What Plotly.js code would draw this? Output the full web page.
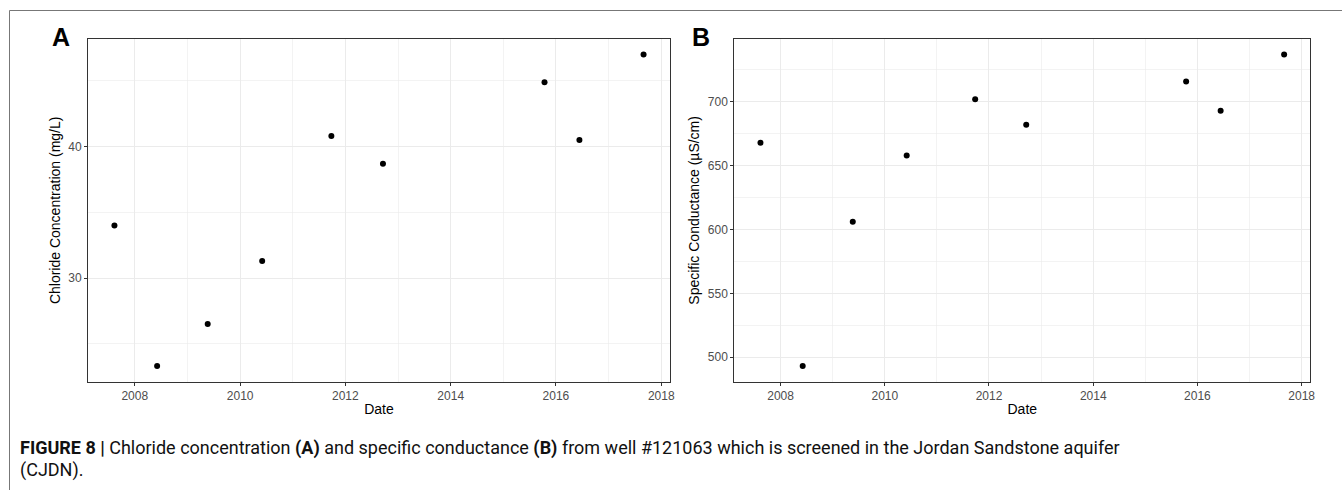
<!DOCTYPE html>
<html>
<head>
<meta charset="utf-8">
<script src="https://cdn.plot.ly/plotly-3.0.1.min.js"></script>
<style>html,body{margin:0;padding:0;background:#fff;}#chart{width:1342px;height:490px;}</style>
</head>
<body>
<div id="chart"></div>
<script>
// Sampling dates (shared by both panels)
const dates = ['2007-08-13','2008-06-04','2009-05-21','2010-06-03','2011-09-26','2012-09-18','2015-10-14','2016-06-12','2017-08-31'];
// Panel A: chloride concentration (mg/L)
const chloride = [34.0, 23.3, 26.5, 31.3, 40.8, 38.7, 44.9, 40.5, 47.0];
// Panel B: specific conductance (µS/cm)
const conductance = [668, 493, 606, 658, 702, 682, 716, 693, 737];

const W = 1342, H = 490;
const px = v => v / W;
const py = v => 1 - v / H;

function expand(min, max, f) { const d = (max - min) * f; return [min - d, max + d]; }
function fmtDate(ms) { return new Date(ms).toISOString().replace('T', ' ').replace('Z', ''); }
const ms = dates.map(d => Date.parse(d + 'T00:00:00Z'));
const xr = expand(Math.min(...ms), Math.max(...ms), 0.05).map(fmtDate);
const yrA = expand(Math.min(...chloride), Math.max(...chloride), 0.05);
const yrB = expand(Math.min(...conductance), Math.max(...conductance), 0.05);

const tickFont = {family: 'Liberation Sans, Arial, sans-serif', size: 12, color: '#4D4D4D'};
const titleFont = {family: 'Liberation Sans, Arial, sans-serif', size: 14, color: '#000'};
const grid = '#EBEBEB';

function xAxis(domain, anchor) {
  return {
    type: 'date', domain: domain, anchor: anchor, range: xr,
    tickmode: 'linear', tick0: '2008-01-01', dtick: 'M24', tickformat: '%Y',
    ticks: 'outside', ticklen: 3, tickcolor: '#333', tickwidth: 1,
    tickfont: tickFont, showgrid: true, gridcolor: grid, gridwidth: 1,
    minor: {tick0: '2008-01-01', dtick: 'M12', showgrid: true, gridcolor: grid, gridwidth: 0.6, ticks: ''},
    showline: true, mirror: true, linecolor: '#333', linewidth: 1, zeroline: false,
    title: {text: 'Date', font: titleFont, standoff: 2}, automargin: false, fixedrange: true
  };
}
function yAxis(domain, anchor, range, dtick, title) {
  return {
    domain: domain, anchor: anchor, range: range,
    tickmode: 'linear', tick0: 0, dtick: dtick,
    ticks: 'outside', ticklen: 3, tickcolor: '#333', tickwidth: 1,
    tickfont: tickFont, showgrid: true, gridcolor: grid, gridwidth: 1,
    minor: {tick0: 0, dtick: dtick / 2, showgrid: true, gridcolor: grid, gridwidth: 0.6, ticks: ''},
    showline: true, mirror: true, linecolor: '#333', linewidth: 1, zeroline: false,
    title: {text: title, font: titleFont, standoff: 4}, automargin: false, fixedrange: true
  };
}

const yDom = [py(381.7), py(39)];
const traces = [
  {x: dates, y: chloride, type: 'scatter', mode: 'markers', xaxis: 'x', yaxis: 'y',
   marker: {color: '#000', size: 6}, hoverinfo: 'x+y'},
  {x: dates, y: conductance, type: 'scatter', mode: 'markers', xaxis: 'x2', yaxis: 'y2',
   marker: {color: '#000', size: 6}, hoverinfo: 'x+y'}
];

const capFont = {family: 'Roboto, sans-serif', size: 18, color: '#111'};

const layout = {
  width: W, height: H,
  margin: {l: 0, r: 0, t: 0, b: 0},
  paper_bgcolor: '#fff', plot_bgcolor: '#fff',
  showlegend: false,
  xaxis: xAxis([px(88), px(670)], 'y'),
  yaxis: yAxis(yDom, 'x', yrA, 10, 'Chloride Concentration (mg/L)'),
  xaxis2: xAxis([px(734.3), px(1310.3)], 'y2'),
  yaxis2: yAxis(yDom, 'x2', yrB, 50, 'Specific Conductance (µS/cm)'),
  shapes: [
    {type: 'line', xref: 'paper', yref: 'paper', x0: px(9.5), x1: 1, y0: py(10.5), y1: py(10.5), line: {color: '#777', width: 1}},
    {type: 'line', xref: 'paper', yref: 'paper', x0: px(9.5), x1: px(9.5), y0: 0, y1: py(10.5), line: {color: '#777', width: 1}}
  ],
  annotations: [
    {text: '<b>A</b>', xref: 'paper', yref: 'paper', x: px(50), y: py(37), xanchor: 'left', yanchor: 'middle', showarrow: false,
     font: {family: 'Liberation Sans, Arial, sans-serif', size: 25, color: '#000'}},
    {text: '<b>B</b>', xref: 'paper', yref: 'paper', x: px(690), y: py(37), xanchor: 'left', yanchor: 'middle', showarrow: false,
     font: {family: 'Liberation Sans, Arial, sans-serif', size: 25, color: '#000'}},
    {text: '<b>FIGURE 8 |</b> Chloride concentration <b>(A)</b> and specific conductance <b>(B)</b> from well #121063 which is screened in the Jordan Sandstone aquifer',
     xref: 'paper', yref: 'paper', x: px(18), y: py(448), xanchor: 'left', yanchor: 'middle', showarrow: false, font: capFont},
    {text: '(CJDN).', xref: 'paper', yref: 'paper', x: px(18), y: py(470), xanchor: 'left', yanchor: 'middle', showarrow: false, font: capFont}
  ]
};

Plotly.newPlot('chart', traces, layout, {displayModeBar: false, staticPlot: true});
</script>
</body>
</html>
